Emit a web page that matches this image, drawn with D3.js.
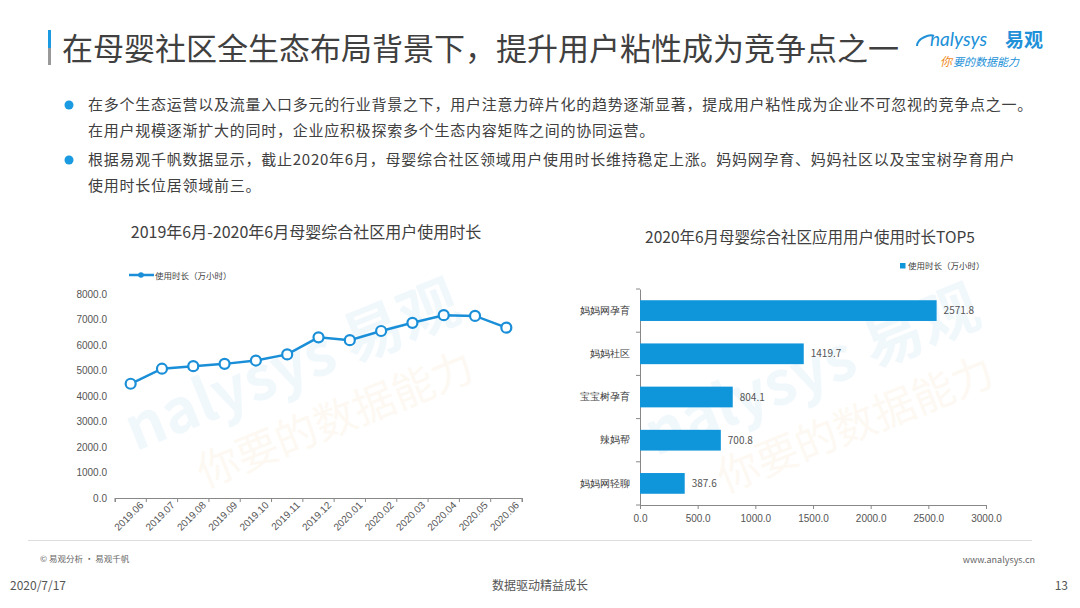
<!DOCTYPE html>
<html>
<head>
<meta charset="utf-8">
<script src="https://cdn.jsdelivr.net/npm/d3@7"></script>
<style>
  body { margin: 0; background: #fff; }
  svg { display: block; font-family: "Noto Sans CJK SC", "Noto Sans", sans-serif; }
</style>
</head>
<body>
<svg width="1080" height="608"></svg>
<script>
// data
const months = ['2019.06','2019.07','2019.08','2019.09','2019.10','2019.11','2019.12',
                '2020.01','2020.02','2020.03','2020.04','2020.05','2020.06'];
const hours = [4480, 5070, 5170, 5260, 5390, 5630, 6300, 6190, 6550, 6870, 7170, 7140, 6680];
const yTicks = [0, 1000, 2000, 3000, 4000, 5000, 6000, 7000, 8000];

const apps = ['妈妈网孕育', '妈妈社区', '宝宝树孕育', '辣妈帮', '妈妈网轻聊'];
const appHours = [2571.8, 1419.7, 804.1, 700.8, 387.6];
const xTicks = [0, 500, 1000, 1500, 2000, 2500, 3000];

const bullets = [
  ['在多个生态运营以及流量入口多元的行业背景之下，用户注意力碎片化的趋势逐渐显著，提成用户粘性成为企业不可忽视的竞争点之一。',
   '在用户规模逐渐扩大的同时，企业应积极探索多个生态内容矩阵之间的协同运营。'],
  ['根据易观千帆数据显示，截止2020年6月，母婴综合社区领域用户使用时长维持稳定上涨。妈妈网孕育、妈妈社区以及宝宝树孕育用户',
   '使用时长位居领域前三。']
];

const blue = '#1a8fd8';
const text = '#404040';
const svg = d3.select('svg');

// header
svg.append('rect').attr('x', 48).attr('y', 30).attr('width', 3).attr('height', 18).attr('fill', '#1a9ae0');
svg.append('rect').attr('x', 48).attr('y', 48).attr('width', 3).attr('height', 17).attr('fill', '#999');
svg.append('text').attr('x', 62).attr('y', 60).attr('font-size', 31).attr('fill', text)
  .text('在母婴社区全生态布局背景下，提升用户粘性成为竞争点之一');

// logo
svg.append('path').attr('d', 'M917,46 C917,38 930,34 934,36').attr('fill', 'none')
  .attr('stroke', '#2090d8').attr('stroke-width', 2);
svg.append('text').attr('x', 930).attr('y', 46).attr('font-size', 19).attr('font-style', 'italic')
  .attr('fill', '#2090d8').attr('font-family', 'Lato, sans-serif').text('nalysys');
svg.append('text').attr('x', 1005).attr('y', 47).attr('font-size', 19).attr('font-weight', 'bold')
  .attr('fill', '#2090d8').text('易观');
svg.append('text').attr('x', 940).attr('y', 66).attr('font-size', 12).attr('font-style', 'italic')
  .attr('fill', '#f08a24').text('你');
svg.append('text').attr('x', 953).attr('y', 66).attr('font-size', 11).attr('font-style', 'italic')
  .attr('fill', '#2090d8').text('要的数据能力');

// bullets
const bulletY = [110, 165];
bullets.forEach((lines, i) => {
  svg.append('circle').attr('cx', 69).attr('cy', bulletY[i] - 5).attr('r', 4.5).attr('fill', '#1a9ae0');
  lines.forEach((l, j) => {
    svg.append('text').attr('x', 88).attr('y', bulletY[i] + j * 26)
      .attr('font-size', 15).attr('letter-spacing', 0.75).attr('fill', text).text(l);
  });
});

// watermarks
function watermark(cx, cy) {
  const g = svg.append('g').attr('transform', `translate(${cx},${cy}) rotate(-22)`).attr('opacity', 0.06);
  g.append('text').attr('x', 0).attr('y', 0).attr('text-anchor', 'middle').attr('font-size', 60)
    .attr('font-weight', 'bold').attr('fill', '#1a8fd8').text('nalysys 易观');
  g.append('text').attr('x', 20).attr('y', 60).attr('text-anchor', 'middle').attr('font-size', 42)
    .attr('fill', '#e0a030').text('你要的数据能力');
}
watermark(300, 385);
watermark(820, 390);

// ---------- line chart ----------
svg.append('text').attr('x', 306).attr('y', 238).attr('text-anchor', 'middle')
  .attr('font-size', 16).attr('fill', text).text('2019年6月-2020年6月母婴综合社区用户使用时长');

const x1 = d3.scaleBand().domain(months).range([115, 522]);
const y1 = d3.scaleLinear().domain([0, 8000]).range([498, 294]);

const xAxis1 = svg.append('g').attr('transform', 'translate(0,498)')
  .call(d3.axisBottom(x1).tickSize(4).tickSizeOuter(4));
xAxis1.select('.domain').attr('stroke', '#888');
xAxis1.selectAll('.tick line').attr('stroke', '#888')
  .attr('transform', `translate(${-x1.bandwidth() / 2},0)`);
xAxis1.selectAll('.tick text').attr('font-size', 10).attr('fill', '#555')
  .attr('text-anchor', 'end').attr('dx', 4).attr('dy', 8)
  .attr('transform', 'rotate(-45)');
// extra end tick
xAxis1.append('line').attr('x1', 522).attr('x2', 522).attr('y1', 0).attr('y2', 4).attr('stroke', '#888');

const yAxis1 = svg.append('g').attr('transform', 'translate(115,0)')
  .call(d3.axisLeft(y1).tickValues(yTicks).tickFormat(d3.format('.1f')).tickSize(0).tickPadding(8));
yAxis1.select('.domain').remove();
yAxis1.selectAll('.tick text').attr('font-size', 10).attr('fill', '#555');

const line = d3.line().x((d, i) => x1(months[i]) + x1.bandwidth() / 2).y(d => y1(d));
svg.append('path').datum(hours).attr('d', line).attr('fill', 'none')
  .attr('stroke', blue).attr('stroke-width', 2.5);
svg.selectAll('.pt').data(hours).join('circle').attr('class', 'pt')
  .attr('cx', (d, i) => x1(months[i]) + x1.bandwidth() / 2).attr('cy', d => y1(d))
  .attr('r', 5).attr('fill', '#fff').attr('stroke', blue).attr('stroke-width', 2.2);

// legend line chart
svg.append('line').attr('x1', 129).attr('x2', 154).attr('y1', 275).attr('y2', 275)
  .attr('stroke', blue).attr('stroke-width', 2.5);
svg.append('circle').attr('cx', 141).attr('cy', 275).attr('r', 2.8).attr('fill', blue);
svg.append('text').attr('x', 155).attr('y', 278.5).attr('font-size', 8.5).attr('fill', text)
  .text('使用时长（万小时）');

// ---------- bar chart ----------
svg.append('text').attr('x', 810).attr('y', 243).attr('text-anchor', 'middle')
  .attr('font-size', 15.5).attr('fill', text).text('2020年6月母婴综合社区应用用户使用时长TOP5');

const x2 = d3.scaleLinear().domain([0, 3000]).range([640, 986]);
const y2 = d3.scaleBand().domain(apps).range([289, 505]).paddingInner(0.52).paddingOuter(0.26);

const xAxis2 = svg.append('g').attr('transform', 'translate(0,505)')
  .call(d3.axisBottom(x2).tickValues(xTicks).tickFormat(d3.format('.1f')).tickSize(4).tickPadding(6));
xAxis2.select('.domain').attr('stroke', '#888');
xAxis2.selectAll('.tick line').attr('stroke', '#888');
xAxis2.selectAll('.tick text').attr('font-size', 10).attr('fill', '#555');

const yBand = d3.scaleBand().domain(apps).range([289, 505]);
const yAxis2 = svg.append('g').attr('transform', 'translate(640,0)')
  .call(d3.axisLeft(y2).tickSize(0).tickPadding(10));
yAxis2.select('.domain').attr('stroke', '#888');
yAxis2.selectAll('.tick text').attr('font-size', 10).attr('fill', text);
yAxis2.selectAll('.sep').data(d3.range(apps.length + 1)).join('line').attr('class', 'sep')
  .attr('x1', -4).attr('x2', 0)
  .attr('y1', i => 289 + i * yBand.step()).attr('y2', i => 289 + i * yBand.step())
  .attr('stroke', '#888');

svg.selectAll('.bar').data(appHours).join('rect').attr('class', 'bar')
  .attr('x', x2(0)).attr('y', (d, i) => y2(apps[i]))
  .attr('width', d => x2(d) - x2(0)).attr('height', y2.bandwidth())
  .attr('fill', '#0f95da');
svg.selectAll('.val').data(appHours).join('text').attr('class', 'val')
  .attr('x', d => x2(d) + 7).attr('y', (d, i) => y2(apps[i]) + y2.bandwidth() / 2 + 3.5)
  .attr('font-size', 10).attr('fill', '#555').text(d => d.toFixed(1));

// legend bar chart
svg.append('rect').attr('x', 900).attr('y', 263).attr('width', 5.5).attr('height', 5.5).attr('fill', '#0f95da');
svg.append('text').attr('x', 908).attr('y', 269).attr('font-size', 8.5).attr('fill', text)
  .text('使用时长（万小时）');

// ---------- footer ----------
svg.append('line').attr('x1', 28).attr('x2', 1032).attr('y1', 540.5).attr('y2', 540.5)
  .attr('stroke', '#ddd').attr('stroke-width', 1);
svg.append('text').attr('x', 40).attr('y', 562).attr('font-size', 8.5).attr('fill', '#666')
  .text('© 易观分析 · 易观千帆');
svg.append('text').attr('x', 1035).attr('y', 563).attr('text-anchor', 'end')
  .attr('font-size', 9).attr('fill', '#666').text('www.analysys.cn');
svg.append('text').attr('x', 10).attr('y', 590).attr('font-size', 12).attr('fill', '#555').text('2020/7/17');
svg.append('text').attr('x', 540).attr('y', 590).attr('text-anchor', 'middle')
  .attr('font-size', 12).attr('fill', '#555').text('数据驱动精益成长');
svg.append('text').attr('x', 1068).attr('y', 590).attr('text-anchor', 'end')
  .attr('font-size', 12).attr('fill', '#555').text('13');
</script>
</body>
</html>
